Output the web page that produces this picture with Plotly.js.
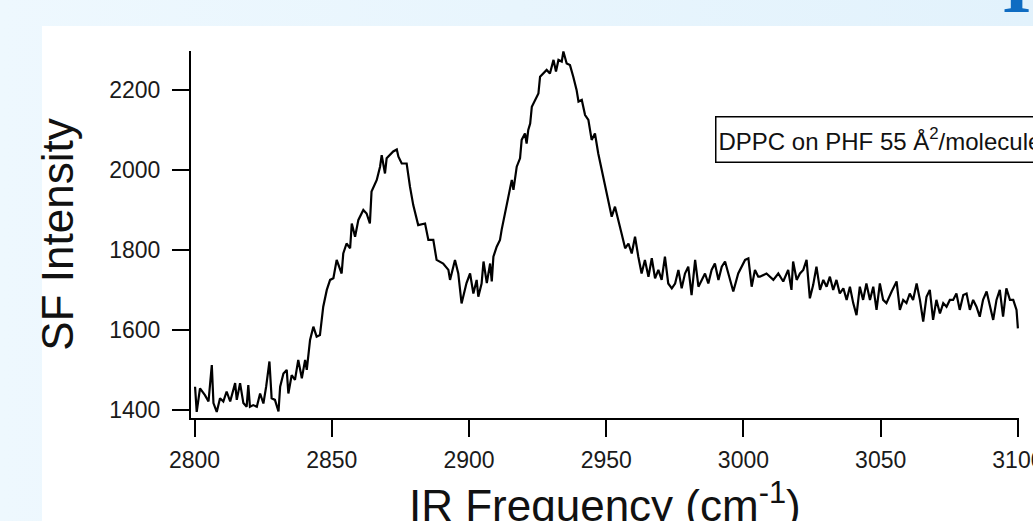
<!DOCTYPE html>
<html>
<head>
<meta charset="utf-8">
<script src="https://cdn.plot.ly/plotly-3.0.1.min.js"></script>
<style>
  html, body { margin: 0; padding: 0; overflow: hidden; }
  body { width: 1033px; height: 521px; background: linear-gradient(to right, #EEF8FE, #E2F2FC); }
  #chart { width: 1033px; height: 521px; }
</style>
</head>
<body>
<div id="chart"></div>
<script>
// IR frequency (cm^-1)
const wavenumber = [
  2800.2,2800.8,2802.0,2803.8,2805.1,2806.3,2806.9,2808.1,2809.3,2810.5,2811.7,2813.0,2814.8,2815.4,2816.6,2817.8,2819.0,2819.6,2820.2,2821.4,
  2822.7,2823.9,2825.1,2826.1,2827.3,2828.1,2829.3,2830.6,2831.2,2832.4,2833.6,2834.2,2835.4,2836.6,2837.8,2839.1,2840.3,2840.9,2842.1,2843.3,
  2844.5,2845.7,2846.9,2848.2,2849.4,2850.6,2851.8,2853.6,2854.2,2855.4,2856.7,2857.3,2858.5,2859.7,2861.5,2862.7,2863.9,2864.5,2866.4,2867.6,
  2868.2,2869.4,2870.0,2871.2,2872.4,2873.7,2874.3,2875.5,2877.3,2878.5,2879.7,2881.5,2884.0,2885.2,2887.0,2888.2,2890.6,2892.5,2893.1,2894.9,
  2896.1,2897.3,2899.1,
  2900.4,2901.6,2902.8,2903.4,2904.6,2905.3,2906.5,2907.7,2908.3,2908.9,2910.1,2911.3,2911.9,2913.1,2913.8,2915.0,2915.6,2916.2,2917.4,2918.6,
  2919.2,2920.4,2921.0,2921.6,2922.3,2922.9,2924.1,2925.3,2925.9,2927.1,2928.3,2929.5,2930.8,2931.7,2932.6,2933.8,2934.4,2935.6,2936.8,2938.0,
  2939.2,2939.9,2941.1,2942.3,2943.5,2944.7,2945.9,2947.1,2948.4,2949.6,2950.8,2952.0,2953.2,2954.4,2955.6,2956.9,2958.1,2959.3,2960.5,2961.7,
  2962.9,2964.1,2965.4,2966.6,2967.8,2969.0,2970.2,2971.4,2972.6,2973.9,2975.1,2976.3,2977.5,2978.7,2979.9,2981.1,2982.4,2983.6,2984.8,2986.0,
  2987.2,2988.4,2989.6,2990.9,2992.1,2993.3,2994.5,2996.3,2998.1,2999.3,3000.6,3001.8,3003.0,3004.2,3005.4,
  3006.0,3008.4,3010.9,3012.7,3014.5,3016.3,3017.5,3018.1,3019.4,3020.6,3021.8,3023.0,3024.2,3025.4,3026.6,3027.9,3029.1,3030.3,3031.5,3032.7,
  3033.9,3035.1,3036.4,3037.6,3038.8,3040.0,3041.2,3042.4,3043.6,3044.8,3046.1,3047.3,3048.5,3049.7,3050.9,3052.1,3054.0,3055.8,3057.0,3058.2,
  3059.4,3060.6,3061.8,3063.1,3064.3,3065.5,3066.7,3067.9,3069.1,3070.3,3071.6,3072.8,3074.0,3075.2,3076.4,3077.6,3078.8,3080.1,3081.3,3082.5,
  3083.7,3084.9,3086.1,3087.3,3088.6,3089.8,3091.0,3092.2,3093.4,3094.6,3095.8,3097.1,3098.3,3099.5,3100.0
];
// SF intensity
const intensity = [
  1457,1394,1453,1436,1420,1511,1416,1394,1428,1420,1445,1420,1466,1424,1466,1416,1407,1461,1407,1411,
  1407,1440,1415,1457,1520,1428,1424,1395,1457,1490,1499,1440,1486,1474,1524,1478,1524,1499,1574,1607,
  1582,1586,1657,1699,1724,1728,1774,1740,1790,1815,1803,1865,1832,1874,1899,1890,1865,1945,1974,2007,
  2036,1990,2028,2036,2045,2050,2032,2015,2015,1957,1911,1861,1865,1824,1824,1774,1765,1749,1724,1774,
  1740,1665,1716,
  1740,1690,1724,1682,1715,1770,1716,1765,1720,1782,1807,1824,1849,1890,1915,1949,1974,1949,2007,2028,
  2074,2090,2065,2099,2115,2157,2174,2190,2232,2240,2249,2240,2274,2245,2274,2270,2295,2265,2261,2232,
  2199,2170,2174,2136,2124,2074,2090,2040,1999,1957,1915,1882,1907,1870,1840,1803,1815,1790,1832,1782,
  1740,1774,1732,1778,1728,1749,1724,1782,1715,1703,1715,1749,1703,1740,1757,1686,1774,1707,1724,1740,
  1715,1749,1765,1724,1757,1770,1740,1695,1740,1757,1774,1778,1707,1749,1732,
  1732,1740,1724,1740,1720,1749,1699,1770,1724,1740,1749,1774,1678,1711,1757,1699,1724,1707,1732,1699,
  1724,1690,1703,1674,1707,1666,1636,1707,1674,1715,1674,1707,1649,1715,1674,1666,1695,1720,1649,1674,
  1666,1690,1674,1715,1674,1620,1682,1699,1624,1674,1640,1666,1657,1674,1674,1690,1649,1686,1690,1649,
  1674,1657,1632,1674,1695,1657,1624,1674,1699,1632,1703,1674,1674,1649,1603
];
const xTicks = [2800, 2850, 2900, 2950, 3000, 3050, 3100];
const yTicks = [1400, 1600, 1800, 2000, 2200];
const xTitle = 'IR Frequency (cm<sup>-1</sup>)';
const yTitle = 'SF Intensity';
const boxLabel = 'DPPC on PHF 55 Å<sup>2</sup>/molecule';
const slideLetter = 'I';

const FONT = 'Liberation Sans, Arial, Helvetica, sans-serif';

const trace = {
  x: wavenumber,
  y: intensity,
  type: 'scatter',
  mode: 'lines',
  line: { color: '#000000', width: 2.2 },
  hoverinfo: 'skip'
};

const axisCommon = {
  showgrid: false,
  zeroline: false,
  showline: true,
  linecolor: '#000000',
  linewidth: 2,
  ticks: 'outside',
  ticklen: 17,
  tickwidth: 2,
  tickcolor: '#000000',
  tickfont: { family: FONT, size: 23, color: '#1a1a1a' },
  ticklabeloverflow: 'allow',
  automargin: false,
  fixedrange: true
};

const layout = {
  width: 1033,
  height: 521,
  margin: { l: 191, r: 14, t: 51, b: 103, pad: 0 },
  paper_bgcolor: 'rgba(0,0,0,0)',
  plot_bgcolor: '#ffffff',
  showlegend: false,
  xaxis: Object.assign({}, axisCommon, {
    range: [2798.72, 3100.4],
    tickmode: 'array',
    tickvals: xTicks,
    ticktext: xTicks.map(String),
    ticklabelstandoff: 3
  }),
  yaxis: Object.assign({}, axisCommon, {
    range: [1378.75, 2296.25],
    tickmode: 'array',
    tickvals: yTicks,
    ticktext: yTicks.map(String),
    ticklabelstandoff: 7,
    title: { text: yTitle, font: { family: FONT, size: 44, color: '#111111' }, standoff: 22 }
  }),
  shapes: [
    { type: 'rect', xref: 'paper', yref: 'paper', x0: -0.18, x1: 1.2, y0: -0.4, y1: 1.0681,
      fillcolor: '#ffffff', line: { width: 0 }, layer: 'below' }
  ],
  annotations: [
    // x-axis title (placed low so that, as in the source, it runs off the bottom edge)
    { xref: 'paper', yref: 'paper', x: 0.5, y: -0.309, xanchor: 'center', yanchor: 'bottom',
      text: xTitle, showarrow: false, borderpad: 0,
      font: { family: FONT, size: 44, color: '#111111' } },
    { xref: 'paper', yref: 'paper', x: 0.6329, y: 0.7589, xanchor: 'left', yanchor: 'middle',
      text: boxLabel, showarrow: false, align: 'left', valign: 'middle',
      font: { family: FONT, size: 24, color: '#111111' },
      bordercolor: '#000000', borderwidth: 1.5, borderpad: 2, bgcolor: '#ffffff',
      width: 420, height: 40 },
    { xref: 'paper', yref: 'paper', x: 0.9964, y: 1.06, xanchor: 'center', yanchor: 'bottom',
      text: slideLetter, showarrow: false, borderpad: 0,
      font: { family: 'Liberation Serif, Times New Roman, serif', size: 75, color: '#0F6CC2', weight: 'bold' } }
  ]
};

Plotly.newPlot('chart', [trace], layout, { displayModeBar: false, staticPlot: true });
</script>
</body>
</html>
